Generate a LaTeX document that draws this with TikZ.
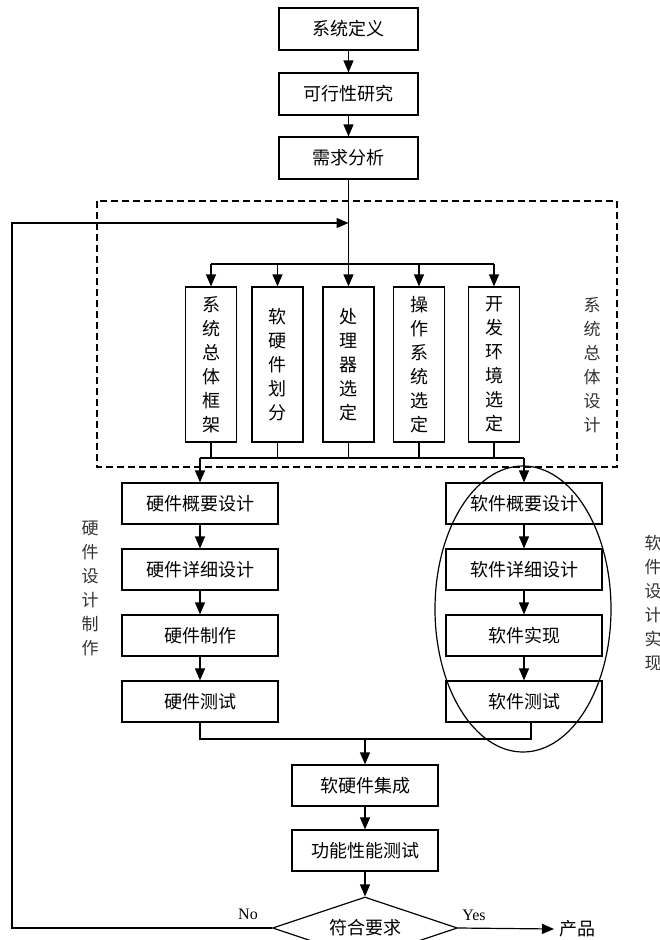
\documentclass[tikz,border=0pt]{standalone}
\usepackage{fontspec}
\setmainfont{Liberation Serif}
\newfontfamily\cjk{Noto Sans CJK SC}
\usetikzlibrary{arrows.meta}
\usetikzlibrary{shapes.geometric}
\tikzstyle{stage}=[draw,line width=1.2pt,minimum width=139pt,minimum height=42pt,inner sep=0pt,font=\cjk\fontsize{18}{18}\selectfont]
\tikzstyle{half}=[stage,minimum width=156pt,minimum height=41pt]
\tikzstyle{pillar}=[draw,line width=1.2pt,minimum width=51pt,minimum height=155pt,inner sep=0pt,align=center,font=\cjk\fontsize{18}{24}\selectfont]
\tikzstyle{side}=[align=center,inner sep=0pt,font=\cjk\fontsize{17}{24}\selectfont,text=black!80]
\tikzstyle{flowhead}=[>/.tip={Triangle[length=12pt,width=10pt]}]
\tikzstyle{flow}=[line width=1.2pt,flowhead,->]
\tikzstyle{wire}=[line width=1.2pt]
\tikzstyle{group}=[line width=2pt,dash pattern=on 7pt off 4pt]

\begin{document}
\begin{tikzpicture}[x=1pt,y=-1pt]
	\useasboundingbox (0,0) rectangle (660,940);
	\clip (0,0) rectangle (660,940);
	% top chain
	\node[stage] (def)  at (348.5,29)  {系统定义};
	\node[stage] (feas) at (348.5,94)  {可行性研究};
	\node[stage] (req)  at (348.5,158) {需求分析};
	\draw[flow] (def) -- (feas);
	\draw[flow] (feas) -- (req);
	% overall design
	\draw[group] (97,201) rectangle (617,467);
	\node[pillar] (p1) at (211,364.5)   {系\\统\\总\\体\\框\\架};
	\node[pillar] (p2) at (277.5,364.5) {软\\硬\\件\\划\\分};
	\node[pillar] (p3) at (348.5,364.5) {处\\理\\器\\选\\定};
	\node[pillar] (p4) at (419,364.5)   {操\\作\\系\\统\\选\\定};
	\node[pillar] (p5) at (494,364.5)   {开\\发\\环\\境\\选\\定};
	\node[side] (sysl) at (592,365) {系\\统\\总\\体\\设\\计};
	\coordinate (split) at (348.5,264);
	\coordinate (join)  at (348.5,458);
	\draw[flow] (req) -- (p3);
	\draw[wire] (split -| p1) -- (split -| p5);
	\foreach \i in {1,2,4,5}
		\draw[flow] (split -| p\i) -- (p\i);
	\foreach \i in {1,...,5}
		\draw[wire] (p\i) -- (join -| p\i);
	% hardware and software columns
	\node[half] (hw1) at (200,503.5) {硬件概要设计};
	\node[half] (hw2) at (200,569.5) {硬件详细设计};
	\node[half] (hw3) at (200,635.5) {硬件制作};
	\node[half] (hw4) at (200,701.5) {硬件测试};
	\node[half] (sw1) at (524,503.5) {软件概要设计};
	\node[half] (sw2) at (524,569.5) {软件详细设计};
	\node[half] (sw3) at (524,635.5) {软件实现};
	\node[half] (sw4) at (524,701.5) {软件测试};
	\node[side] (hwl) at (90,588)  {硬\\件\\设\\计\\制\\作};
	\node[side] (swl) at (653,603) {软\\件\\设\\计\\实\\现};
	\draw[wire] (join -| hw1) -- (join -| sw1);
	\draw[flow] (join -| hw1) -- (hw1);
	\draw[flow] (join -| sw1) -- (sw1);
	\foreach \i/\j in {1/2,2/3,3/4} {
		\draw[flow] (hw\i) -- (hw\j);
		\draw[flow] (sw\i) -- (sw\j);
	}
	\draw[wire] (523,609) ellipse [x radius=88pt,y radius=143pt];
	% integration and check
	\node[stage,minimum width=146pt,minimum height=41pt] (integ) at (365,785.5) {软硬件集成};
	\node[stage,minimum width=146pt,minimum height=41pt] (func)  at (365,850.5) {功能性能测试};
	\node[diamond,draw,line width=1.2pt,aspect=3,inner sep=0pt,minimum width=185pt,minimum height=62pt,font=\cjk\fontsize{18}{18}\selectfont] (check) at (365,928) {符合要求};
	\coordinate (merge) at (365,739);
	\draw[wire] (hw4) -- (hw4 |- merge) -| ([xshift=7pt]sw4.south);
	\draw[flow] (merge) -- (integ);
	\draw[flow] (integ) -- (func);
	\draw[flow] (func) -- (check);
	% outcome
	\node[anchor=west,inner sep=0pt,outer sep=5pt,font=\cjk\fontsize{18}{18}\selectfont] (prod) at (554,929) {产品};
	\draw[flow] (check.east) -- (prod.west);
	\node[font=\fontsize{16}{16}\selectfont] (yes) at (474,915) {Yes};
	\node[font=\fontsize{16}{16}\selectfont] (no)  at (248,914) {No};
	\coordinate (back) at (12,928);
	\coordinate (backtop) at (12,223);
	\draw[flow] (check.west) -- (back) -- (backtop) -- (backtop -| req);
\end{tikzpicture}
\end{document}
